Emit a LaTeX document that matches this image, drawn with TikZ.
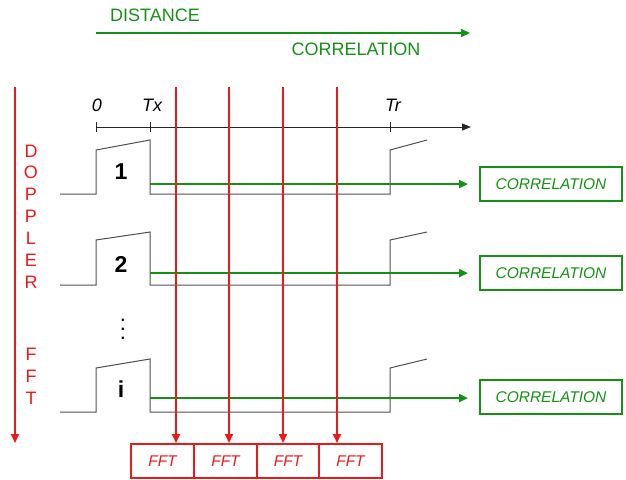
\documentclass[tikz,border=0pt]{standalone}
\usepackage{fontspec}
\setmainfont{Liberation Sans}
\usetikzlibrary{arrows.meta}
\definecolor{grn}{RGB}{20,145,20}
\definecolor{rd}{RGB}{235,25,25}
\definecolor{sigc}{RGB}{80,80,80}
\begin{document}
\begin{tikzpicture}[x=1pt,y=-1pt,
  garrow/.style={draw=grn, line width=2.4pt, -{Triangle[length=9pt,width=8pt]}},
  rarrow/.style={draw=rd, line width=2pt, -{Triangle[length=9pt,width=8pt]}},
  axarrow/.style={draw=black!85, line width=1pt, -{Triangle[length=9pt,width=7pt]}},
  tick/.style={draw=black!85, line width=1pt},
  corrbox/.style={draw=grn, line width=2pt, minimum width=142pt, minimum height=34pt, inner sep=0pt, font=\fontsize{15.5}{18}\selectfont\itshape, text=grn},
  fftbox/.style={draw=rd, line width=2pt, minimum height=34pt, inner sep=0pt, font=\fontsize{15.5}{18}\selectfont\itshape, text=rd},
  sig/.style={draw=sigc, line width=1pt},
  gtext/.style={font=\fontsize{18}{20}\selectfont, text=grn, inner sep=0pt},
  rtext/.style={font=\fontsize{18}{20}\selectfont, text=rd, inner sep=0pt},
  axlab/.style={font=\fontsize{18}{20}\selectfont\itshape, inner sep=0pt},
  plab/.style={font=\fontsize{23}{26}\selectfont\bfseries, inner sep=0pt},
]
\useasboundingbox (0,0) rectangle (626,479);

% top green arrow and labels
\coordinate (d0) at (96,33);
\coordinate (d1) at (470,33);
\draw[garrow] (d0) -- (d1);
\node[gtext] (dist) at (155,15) {DISTANCE};
\node[gtext] (corrtop) at (356,49) {CORRELATION};

% time axis
\coordinate (ax0) at (96,127);
\coordinate (ax1) at (471,127);
\draw[axarrow] (ax0) -- (ax1);
\coordinate (t0) at (96,127);
\coordinate (tx) at (150,127);
\coordinate (tr) at (390,127);
\foreach \c in {t0,tx,tr} \draw[tick] ([yshift=-5pt]\c) -- ([yshift=5pt]\c);
\node[axlab] (l0) at (97,105) {0};
\node[axlab] (ltx) at (152,105) {Tx};
\node[axlab] (ltr) at (393,105) {Tr};

% pulses
\draw[sig] (60,194) -- (96,194) -- (96,150) -- (150,140) -- (150,194) -- (390,194) -- (390,150) -- (427,140);
\draw[sig] (60,285) -- (96,285) -- (96,240) -- (150,232) -- (150,285) -- (390,285) -- (390,240) -- (427,232);
\draw[sig] (60,412) -- (96,412) -- (96,368) -- (150,359) -- (150,412) -- (390,412) -- (390,368) -- (427,359);
\node[plab] (p1) at (121,172) {1};
\node[plab] (p2) at (121,264) {2};
\node[plab] (pi) at (121,389) {i};
\node[inner sep=0pt] (dots) at (123,322.5) {\scalebox{2.2}{$\vdots$}};

% correlation boxes
\node[corrbox] (corr1) at (551,184) {CORRELATION};
\node[corrbox] (corr2) at (551,273) {CORRELATION};
\node[corrbox] (corr3) at (551,397) {CORRELATION};

% FFT boxes
\node[fftbox, minimum width=63pt] (fft1) at (162.5,461) {FFT};
\node[fftbox, minimum width=63pt] (fft2) at (225.5,461) {FFT};
\node[fftbox, minimum width=62pt] (fft3) at (288,461) {FFT};
\node[fftbox, minimum width=63pt] (fft4) at (350.5,461) {FFT};

% green range lines
\coordinate (g1) at (150,184);
\coordinate (g2) at (150,273);
\coordinate (g3) at (150,398);
\draw[garrow] (g1) -- ([xshift=-11pt]corr1.west);
\draw[garrow] (g2) -- ([xshift=-11pt]corr2.west);
\draw[garrow] (g3) -- ([xshift=-11pt]corr3.west |- g3);

% red doppler lines
\coordinate (r1) at (176,87);
\coordinate (r2) at (229,87);
\coordinate (r3) at (283,87);
\coordinate (r4) at (337,87);
\draw[rarrow] (r1) -- (r1 |- fft1.north);
\draw[rarrow] (r2) -- (r2 |- fft2.north);
\draw[rarrow] (r3) -- (r3 |- fft3.north);
\draw[rarrow] (r4) -- (r4 |- fft4.north);

% doppler axis
\coordinate (dp0) at (15,87);
\coordinate (dp1) at (15,443);
\draw[rarrow] (dp0) -- (dp1);
\foreach \l/\y [count=\k] in {D/151,O/172,P/194,P/216,L/238,E/260,R/282,F/354,F/376,T/398}
  \node[rtext] (dl\k) at (31,\y) {\l};
\end{tikzpicture}
\end{document}
